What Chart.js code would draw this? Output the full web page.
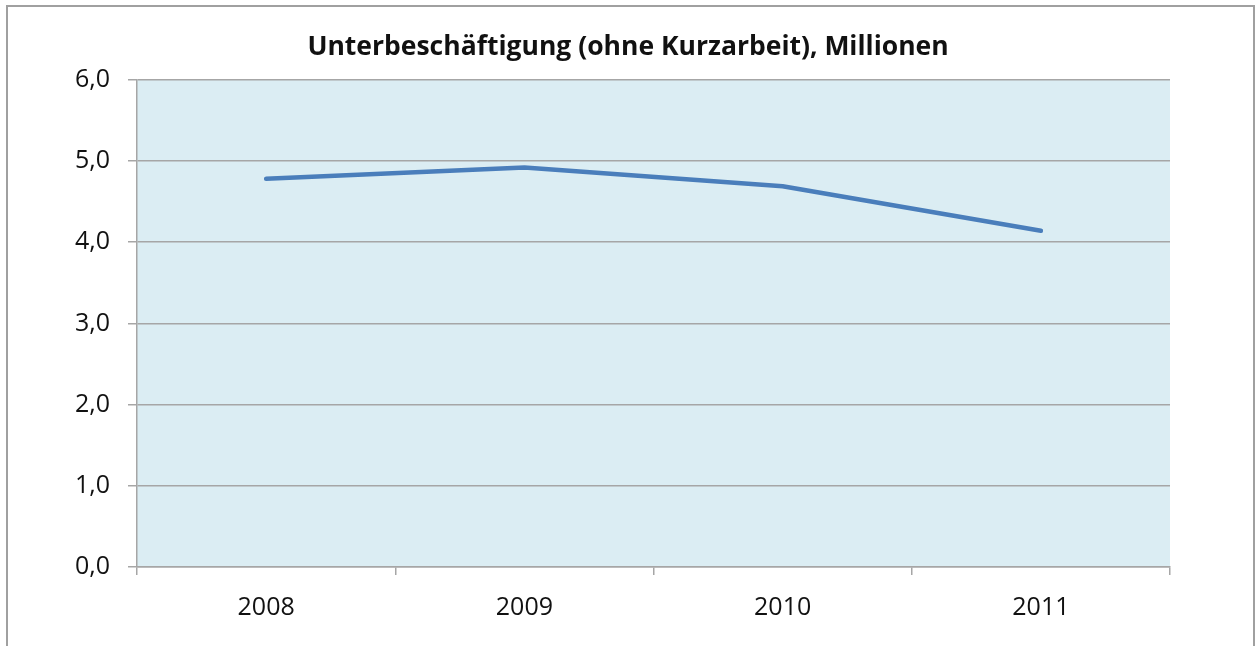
<!DOCTYPE html>
<html>
<head>
<meta charset="utf-8">
<script src="https://cdn.jsdelivr.net/npm/chart.js@4"></script>
<style>
    html, body { margin: 0; padding: 0; background: #fff; }
    #wrap { width: 1256px; height: 646px; }
</style>
</head>
<body>
<div id="wrap"><canvas id="myChart" width="1256" height="646"></canvas></div>
<script>
const years = ["2008", "2009", "2010", "2011"];
const underemployment = [4.78, 4.92, 4.69, 4.14];
const chartTitle = "Unterbeschäftigung (ohne Kurzarbeit), Millionen";
const yMin = 0, yMax = 6, yStep = 1;

// light blue plot area and grey frame round the whole chart
const backdrop = {
    id: "backdrop",
    beforeDraw(chart) {
        const ctx = chart.ctx;
        const a = chart.chartArea;
        ctx.save();
        ctx.fillStyle = "#ffffff";
        ctx.fillRect(0, 0, chart.width, chart.height);
        ctx.strokeStyle = "#a0a0a0";
        ctx.lineWidth = 2;
        ctx.strokeRect(7, 6, 1247, 680);
        ctx.fillStyle = "rgb(219,237,243)";
        ctx.fillRect(a.left, a.top, a.right - a.left, a.bottom - a.top);
        ctx.restore();
    }
};

Chart.defaults.font.family = "'Open Sans', sans-serif";
Chart.defaults.color = "#111";

const ctx = document.getElementById("myChart");

new Chart(ctx, {
    type: "line",
    data: {
        labels: years,
        datasets: [{
            label: "Unterbeschäftigung",
            data: underemployment,
            borderColor: "rgb(74,126,187)",
            borderWidth: 4.5,
            borderCapStyle: "round",
            borderJoinStyle: "round",
            fill: false,
            tension: 0,
            pointRadius: 0
        }]
    },
    options: {
        responsive: false,
        animation: false,
        layout: {
            padding: 0
        },
        plugins: {
            legend: {display: false},
            tooltip: {enabled: false},
            title: {
                display: true,
                text: chartTitle,
                color: "#111",
                font: {size: 26.5, weight: "bold"},
                padding: {top: 32, bottom: 16}
            }
        },
        scales: {
            x: {
                offset: true,
                grid: {
                    offset: true,
                    drawOnChartArea: false,
                    color: "#a6a6a6",
                    lineWidth: 1.5,
                    tickLength: 8
                },
                border: {color: "#a6a6a6", width: 1.5},
                ticks: {
                    font: {size: 25},
                    padding: 18,
                    maxRotation: 0
                },
                afterFit(scale) {
                    scale.height = 79;
                }
            },
            y: {
                min: yMin,
                max: yMax,
                grid: {
                    color: "#a6a6a6",
                    lineWidth: 1.5,
                    tickLength: 9
                },
                border: {color: "#a6a6a6", width: 1.5},
                ticks: {
                    stepSize: yStep,
                    font: {size: 25},
                    padding: 18,
                    callback: v => v.toFixed(1).replace(".", ",")
                },
                afterFit(scale) {
                    scale.width = 137;
                }
            },
            // empty right margin, keeps the title centred on the whole chart
            yRight: {
                position: "right",
                min: yMin,
                max: yMax,
                grid: {display: false, drawOnChartArea: false},
                border: {display: false},
                ticks: {display: false},
                afterFit(scale) {
                    scale.width = 86;
                }
            }
        }
    },
    plugins: [backdrop]
});
</script>
</body>
</html>
